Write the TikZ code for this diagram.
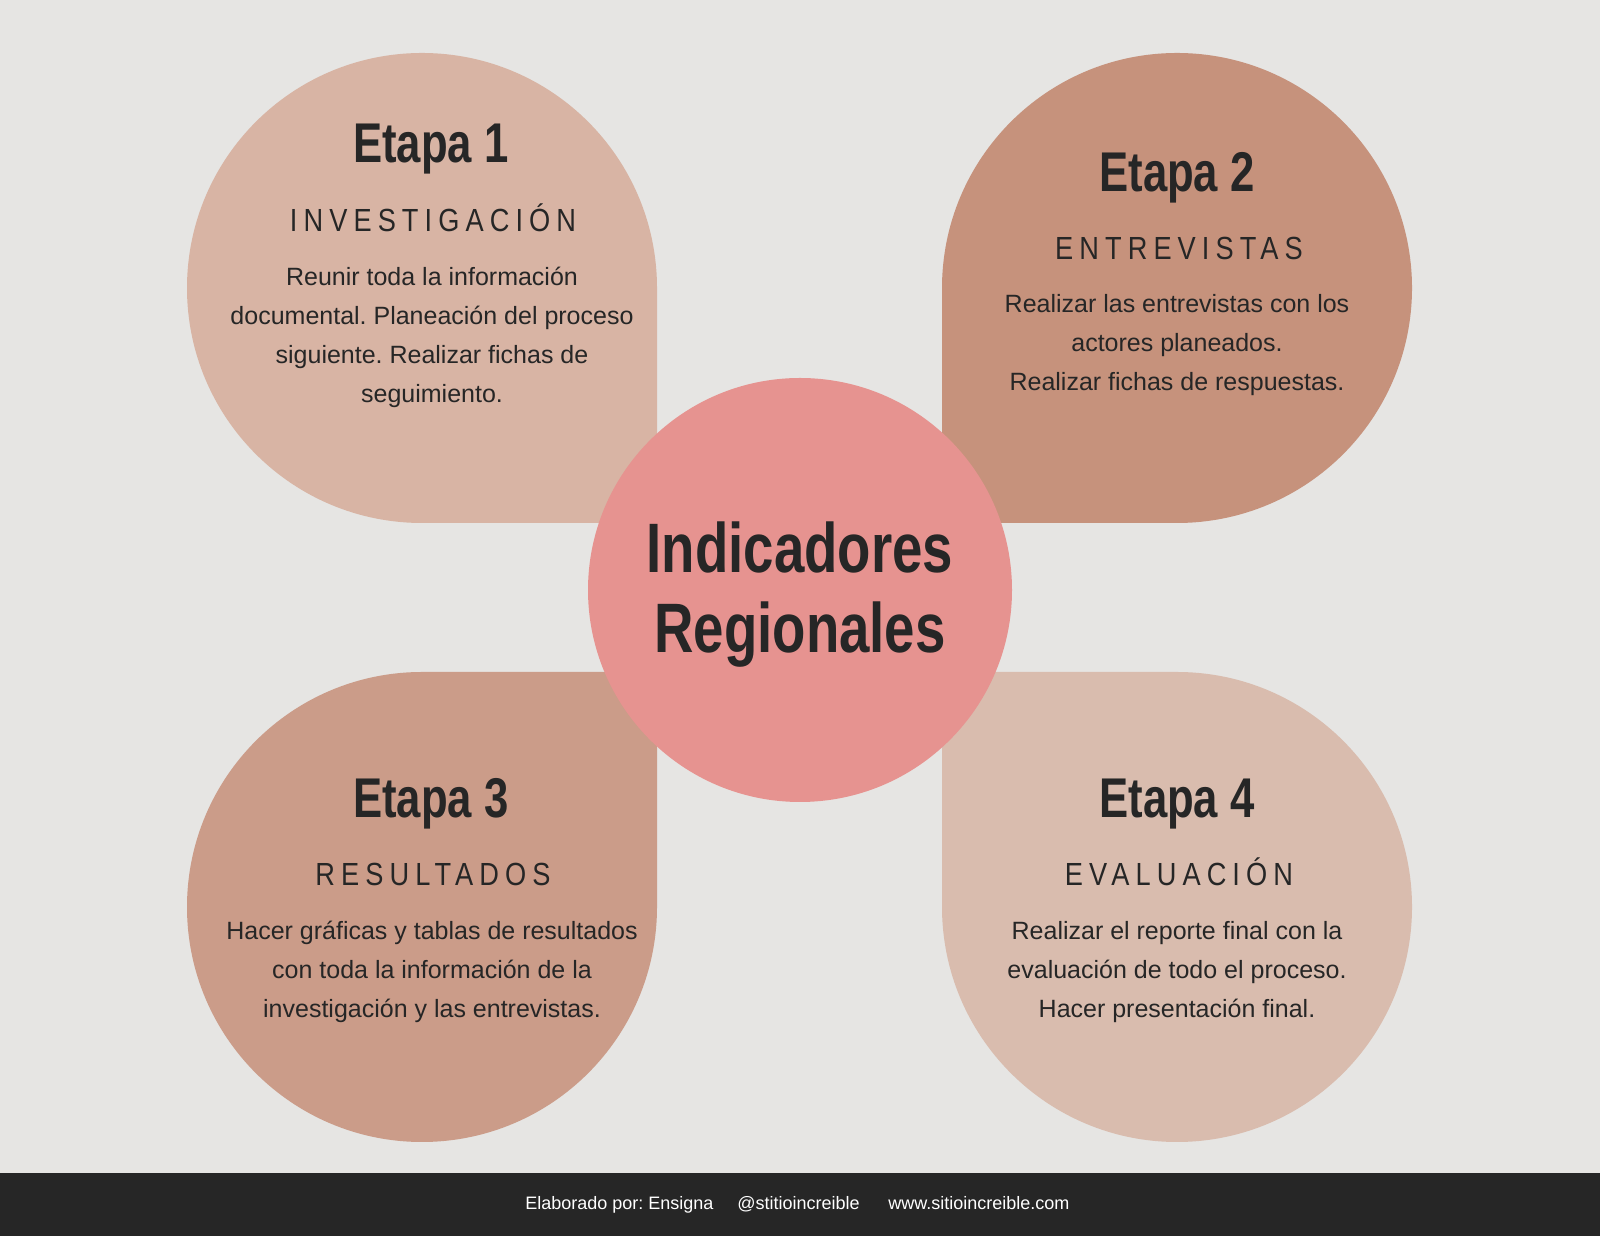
\documentclass[tikz,border=0pt]{standalone}
\usepackage{fontspec}
\setmainfont{Liberation Sans}
\newfontfamily\condfam{Liberation Sans}[FakeStretch=0.78]
\newfontfamily\subfam{Liberation Sans}[FakeStretch=0.85,LetterSpace=19]
\frenchspacing
\definecolor{bgc}{HTML}{E6E5E3}
\definecolor{footc}{HTML}{262626}
\definecolor{inkc}{HTML}{262626}
\definecolor{cone}{HTML}{D8B4A4}
\definecolor{ctwo}{HTML}{C6927C}
\definecolor{cthree}{HTML}{CB9C89}
\definecolor{cfour}{HTML}{D9BCAE}
\definecolor{ccenter}{HTML}{E69390}
\tikzset{
  ttl/.style={font=\condfam\bfseries\fontsize{28}{28}\selectfont, text=inkc, inner sep=0pt, anchor=base},
  subttl/.style={font=\subfam\fontsize{16}{16}\selectfont, text=inkc, inner sep=0pt, anchor=base},
  bodytxt/.style={font=\frenchspacing\fontsize{12.5}{19.5}\selectfont, text=inkc, inner sep=0pt, align=center, anchor=base},
  centertxt/.style={font=\condfam\bfseries\fontsize{35}{35}\selectfont, text=inkc, inner sep=0pt, anchor=base},
  foottxt/.style={font=\frenchspacing\fontsize{9}{9}\selectfont, text=white, inner sep=0pt, anchor=base west}
}
\begin{document}
\begin{tikzpicture}[x=0.5pt,y=0.5pt]
\useasboundingbox (0,0) rectangle (1600,1236);
\fill[bgc] (0,0) rectangle (1600,1236);
\fill[footc] (0,0) rectangle (1600,63);
% petals
\fill[cone] (422,713) -- (657,713) -- (657,948) arc[start angle=0,end angle=270,radius=117.5pt] -- cycle;
\fill[ctwo] (1177,713) -- (942,713) -- (942,948) arc[start angle=180,end angle=-90,radius=117.5pt] -- cycle;
\fill[cthree] (422,564) -- (657,564) -- (657,329) arc[start angle=0,end angle=-270,radius=117.5pt] -- cycle;
\fill[cfour] (1177,564) -- (942,564) -- (942,329) arc[start angle=180,end angle=450,radius=117.5pt] -- cycle;
% center
\node[circle, fill=ccenter, minimum size=212pt, inner sep=0pt] (center) at (800,646) {};
\node[centertxt] (ctop) at (800,663) {Indicadores};
\node[centertxt] (cbot) at (800,583) {Regionales};
% Etapa 1
\node[ttl] (e1t) at (431,1073) {Etapa 1};
\node[subttl] (e1s) at (433,1004) {INVESTIGACIÓN};
\node[bodytxt] (e1b) at (432,833) {Reunir toda la información\\documental. Planeación del proceso\\siguiente. Realizar fichas de\\seguimiento.};
% Etapa 2
\node[ttl] (e2t) at (1177,1044) {Etapa 2};
\node[subttl] (e2s) at (1179,976) {ENTREVISTAS};
\node[bodytxt] (e2b) at (1177,845) {Realizar las entrevistas con los\\actores planeados.\\Realizar fichas de respuestas.};
% Etapa 3
\node[ttl] (e3t) at (431,418) {Etapa 3};
\node[subttl] (e3s) at (433,350) {RESULTADOS};
\node[bodytxt] (e3b) at (432,218) {Hacer gráficas y tablas de resultados\\con toda la información de la\\investigación y las entrevistas.};
% Etapa 4
\node[ttl] (e4t) at (1177,418) {Etapa 4};
\node[subttl] (e4s) at (1179,350) {EVALUACIÓN};
\node[bodytxt] (e4b) at (1177,218) {Realizar el reporte final con la\\evaluación de todo el proceso.\\Hacer presentación final.};
% footer
\node[foottxt] (f1) at (525,26) {Elaborado por: Ensigna};
\node[foottxt] (f2) at (737,26) {@stitioincreible};
\node[foottxt] (f3) at (888,26) {www.sitioincreible.com};
\end{tikzpicture}
\end{document}
